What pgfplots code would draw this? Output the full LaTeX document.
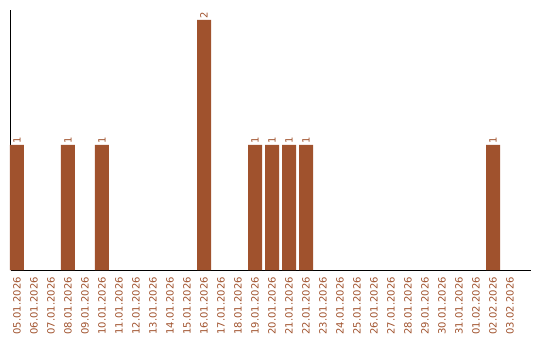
\documentclass[border=0pt]{standalone}
\usepackage{fontspec}
\setmainfont{DejaVu Sans}
\usepackage{pgfplots}
\pgfplotsset{compat=1.18}
\definecolor{barc}{HTML}{A0522D}
\begin{document}
\begin{tikzpicture}[x=1pt,y=1pt]
\useasboundingbox (-10.5,-70) rectangle (529.5,270);
\begin{axis}[
  at={(0,0)}, anchor=south west,
  scale only axis, width=520.5pt, height=260pt,
  xmin=-0.382, xmax=30.235, ymin=0, ymax=2.08,
  axis x line=bottom, axis y line=left,
  axis line style={-, black, line width=0.8pt},
  ytick=\empty,
  xtick={0,...,29},
  major tick length=0pt,
  xticklabels={05.01.2026,06.01.2026,07.01.2026,08.01.2026,09.01.2026,10.01.2026,11.01.2026,12.01.2026,13.01.2026,14.01.2026,15.01.2026,16.01.2026,17.01.2026,18.01.2026,19.01.2026,20.01.2026,21.01.2026,22.01.2026,23.01.2026,24.01.2026,25.01.2026,26.01.2026,27.01.2026,28.01.2026,29.01.2026,30.01.2026,31.01.2026,01.02.2026,02.02.2026,03.02.2026},
  xticklabel style={rotate=90, anchor=east, inner sep=0pt, text=barc, font=\fontsize{10}{12}\selectfont},
  xticklabel shift=7pt,
  clip=false,
  ybar, bar width=14pt,
  nodes near coords={\fontsize{10}{12}\selectfont\pgfmathprintnumber[assume math mode=true]{\pgfplotspointmeta}},
  every node near coord/.append style={rotate=90, anchor=west, inner sep=1.5pt, text=barc, scale=1},
]
\addplot[fill=barc, draw=none] coordinates {(0,1) (3,1) (5,1) (11,2) (14,1) (15,1) (16,1) (17,1) (28,1)};
\end{axis}
\end{tikzpicture}
\end{document}
